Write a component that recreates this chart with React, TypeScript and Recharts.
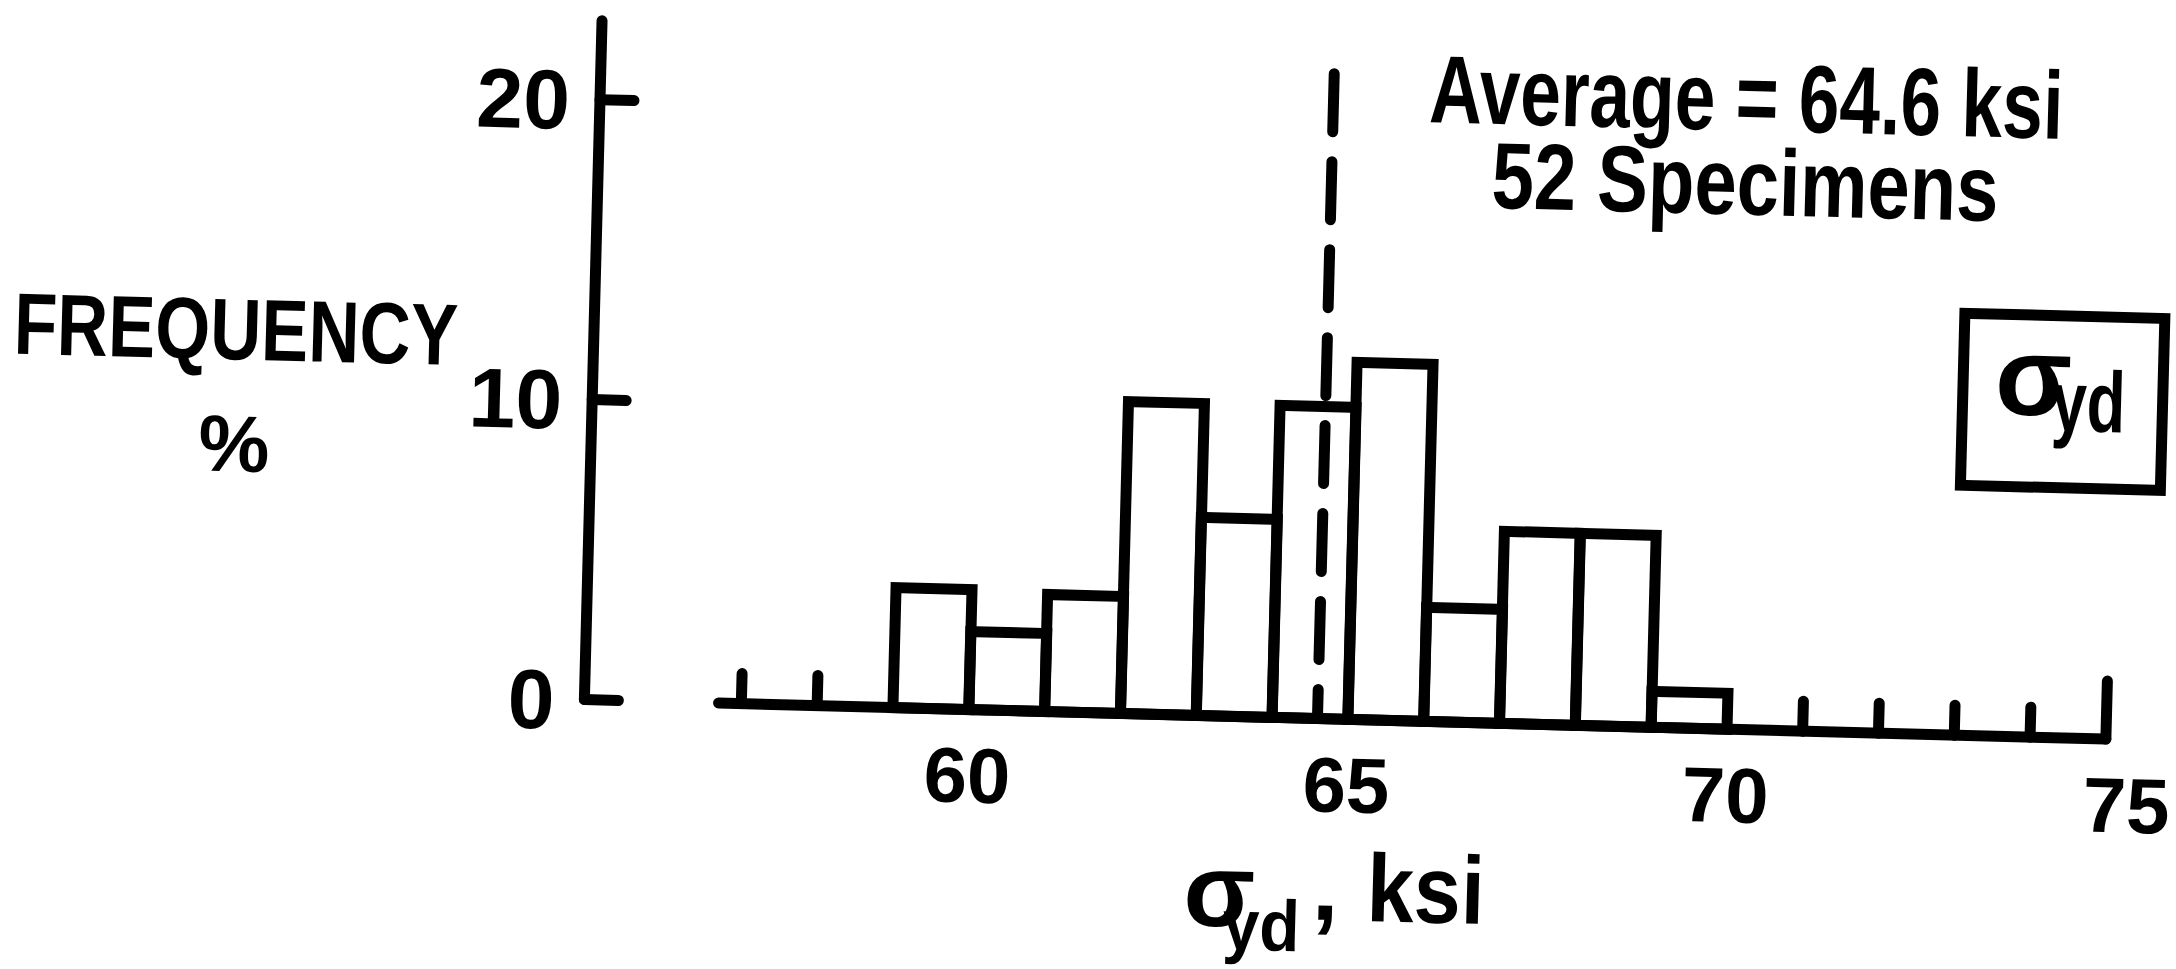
import React from 'react';
import { ComposedChart, Bar, XAxis, YAxis, ReferenceLine } from 'recharts';

// histogram of yield stress sigma_yd, bins 1 ksi wide
const binMids = [59.5, 60.5, 61.5, 62.5, 63.5, 64.5, 65.5, 66.5, 67.5, 68.5, 69.5];
const freqPct = [4.0, 2.6, 3.9, 10.4, 6.6, 10.4, 11.9, 3.8, 6.4, 6.4, 1.2];

const xTicks = [57, 58, 60, 65, 70, 71, 72, 73, 74, 75];
const xLabelTicks = [60, 65, 70, 75];
const xMarkTicks = [57, 58, 71, 72, 73, 74, 75];
const yTicks = [0, 10, 20];

const average = 64.6;
const specimens = 52;
const axisStart = 56.7;
const axisEnd = 75;
const avgLineTop = 21.5;

const data = binMids.map((bin, i) => ({ bin, freq: freqPct[i] }));

const FONT = "'Liberation Sans', Arial, Helvetica, sans-serif";
const INK = '#000';
const LINE = 11;

const XTick = ({ x, y, payload }: any) => {
  const v = payload.value;
  const len = v === 75 ? 58 : 30;
  // the last label sits a little right of its tick in the original
  const dx = v === 75 ? 22 : 0;
  return (
    <g>
      {xMarkTicks.includes(v) && (
        <line x1={x} y1={y} x2={x} y2={y - len} stroke={INK} strokeWidth={LINE} strokeLinecap="round" />
      )}
      {xLabelTicks.includes(v) && (
        <text x={x + dx} y={y + 93} textAnchor="middle" fontFamily={FONT} fontWeight="bold" fontSize={78} fill={INK}>
          {v}
        </text>
      )}
    </g>
  );
};

const YTick = ({ x, y, payload }: any) => (
  <g>
    <line x1={x} y1={y} x2={x + 34} y2={y} stroke={INK} strokeWidth={LINE} strokeLinecap="round" />
    <text x={x - 30} y={y + 30} textAnchor="end" fontFamily={FONT} fontWeight="bold" fontSize={84} fill={INK}>
      {payload.value}
    </text>
  </g>
);

const Notes = () => (
  <svg
    width={2176}
    height={969}
    style={{ position: 'absolute', left: 0, top: 0, pointerEvents: 'none' }}
    fontFamily={FONT}
    fill={INK}
  >
    <text x={1730} y={122} textAnchor="middle" fontSize={96} fontWeight="bold" textLength={634} lengthAdjust="spacingAndGlyphs">
      {`Average = ${average} ksi`}
    </text>
    <text x={1731} y={206} textAnchor="middle" fontSize={94} fontWeight="bold" textLength={507} lengthAdjust="spacingAndGlyphs">
      {`${specimens}  Specimens`}
    </text>

    <rect x={1954} y={299} width={200} height={172} fill="none" stroke={INK} strokeWidth={LINE} />
    <text x={1986} y={399} fontSize={112} fontWeight="bold">σ</text>
    <text x={2043} y={414} fontSize={86} fontWeight="bold" textLength={74} lengthAdjust="spacingAndGlyphs">yd</text>

    <text x={226} y={390} textAnchor="middle" fontSize={87} fontWeight="bold" textLength={444} lengthAdjust="spacingAndGlyphs">
      FREQUENCY
    </text>
    <text x={227} y={502} textAnchor="middle" fontSize={80} fontWeight="bold">%</text>

    <text x={1188} y={931} fontSize={104} fontWeight="bold">σ</text>
    <text x={1228} y={954} fontSize={72} fontWeight="bold" textLength={77} lengthAdjust="spacingAndGlyphs">yd</text>
    <text x={1330} y={922} textAnchor="middle" fontSize={96} fontWeight="bold">,</text>
    <text x={1371} y={922} fontSize={96} fontWeight="bold" textLength={118} lengthAdjust="spacingAndGlyphs">ksi</text>
  </svg>
);

export default function App() {
  return (
    <div
      style={{
        position: 'absolute',
        left: 0,
        top: 0,
        width: 2176,
        height: 969,
        transform: 'rotate(1.49deg)',
        transformOrigin: '1410px 725px',
      }}
    >
      <ComposedChart
        width={2176}
        height={969}
        data={data}
        margin={{ top: 42, right: 70, bottom: 128, left: 0 }}
        barCategoryGap={0}
        barGap={0}
      >
        <XAxis
          dataKey="bin"
          type="number"
          domain={[54.93, 75]}
          ticks={xTicks}
          interval={0}
          height={120}
          axisLine={false}
          tickLine={false}
          tickSize={0}
          tickMargin={0}
          tick={<XTick />}
        />
        <YAxis
          type="number"
          domain={[0, 22.63]}
          ticks={yTicks}
          width={584}
          axisLine={{ stroke: INK, strokeWidth: LINE, strokeLinecap: 'round' }}
          tickLine={false}
          tickSize={0}
          tickMargin={0}
          tick={<YTick />}
        />
        <ReferenceLine
          segment={[{ x: axisStart, y: 0 }, { x: axisEnd, y: 0 }]}
          stroke={INK}
          strokeWidth={LINE}
          strokeLinecap="round"
          ifOverflow="visible"
        />
        <Bar dataKey="freq" fill="none" stroke={INK} strokeWidth={LINE} isAnimationActive={false} />
        <ReferenceLine
          segment={[{ x: average, y: avgLineTop }, { x: average, y: 0 }]}
          stroke={INK}
          strokeWidth={11}
          strokeDasharray="58 30"
          strokeLinecap="round"
          ifOverflow="visible"
        />
      </ComposedChart>
      <Notes />
    </div>
  );
}
